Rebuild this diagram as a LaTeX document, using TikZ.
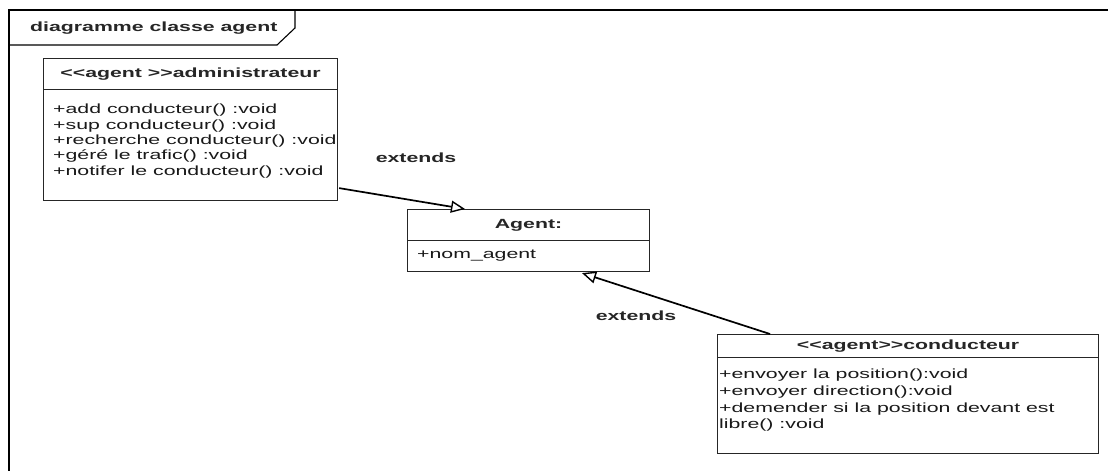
\documentclass[tikz,border=0pt]{standalone}
\usepackage{fontspec}
\setmainfont[FakeStretch=1.6]{Liberation Sans}
\usetikzlibrary{arrows.meta,calc}
% keep the doubled angle brackets from turning into guillemets
\newcommand{\stlt}{<\kern0pt<}
\newcommand{\stgt}{>\kern0pt>}
\begin{document}
\begin{tikzpicture}[x=1pt,y=-1pt,
  framepen/.style={draw=black, line width=1.6pt},
  umlbox/.style={draw=black!85, line width=1.1pt, fill=white, inner sep=0pt, anchor=north west},
  headtext/.style={font=\fontsize{13.3}{15}\selectfont\bfseries, text=black!85},
  bodytext/.style={font=\fontsize{13.3}{15.3}\selectfont, text=black!90, align=left, inner sep=0pt, anchor=north west},
  inherit/.style={draw=black, line width=1.7pt, -{Triangle[open,length=14pt,width=12pt,fill=white,line width=1.4pt]}}
]
\useasboundingbox (0,0) rectangle (1108,471);
\fill[white] (0,0) rectangle (1108,471);

% package frame with its name tab
\draw[framepen] (9,471) -- (9,10) -- (1108,10);
\draw[framepen, line width=1.1pt] (9,45) -- (277,45) -- (295,28) -- (295,10);
\node[headtext, anchor=west, inner sep=0pt] (frameTitle) at (30,28) {diagramme classe agent};

% administrateur
\node[umlbox, headtext, minimum width=294pt, minimum height=31pt] (admHead) at (43,58) {\stlt agent \stgt administrateur};
\node[umlbox, minimum width=294pt, minimum height=111pt] (admBody) at (43,89) {};
\node[bodytext] (admOps) at ($(admBody.north west)+(10,15)$) {+add conducteur() :void\\+sup conducteur() :void\\+recherche conducteur() :void\\+géré le trafic() :void\\+notifer le conducteur() :void};

% Agent
\node[umlbox, headtext, minimum width=242pt, minimum height=31pt] (agHead) at (407,209) {Agent:};
\node[umlbox, minimum width=242pt, minimum height=31pt] (agBody) at (407,240) {};
\node[bodytext] (agAttr) at ($(agBody.north west)+(10,10)$) {+nom\_agent};

% conducteur
\node[umlbox, headtext, minimum width=381pt, minimum height=23pt] (condHead) at (717,334) {\stlt agent\stgt conducteur};
\node[umlbox, minimum width=381pt, minimum height=96pt] (condBody) at (717,357) {};
\node[bodytext, font=\fontsize{13.3}{16.7}\selectfont] (condOps) at ($(condBody.north west)+(2,12)$) {+envoyer la position():void\\+envoyer direction():void\\+demender si la position devant est\\libre() :void};

% generalisations
\draw[inherit] ($(admBody.south east)+(1,-13)$) -- ($(agHead.north west)+(58,0)$);
\draw[inherit] ($(condHead.north west)+(53,0)$) -- ($(agBody.south west)+(175,1)$);
\node[headtext] (extA) at (416,158) {extends};
\node[headtext] (extB) at (636,316) {extends};
\end{tikzpicture}
\end{document}
